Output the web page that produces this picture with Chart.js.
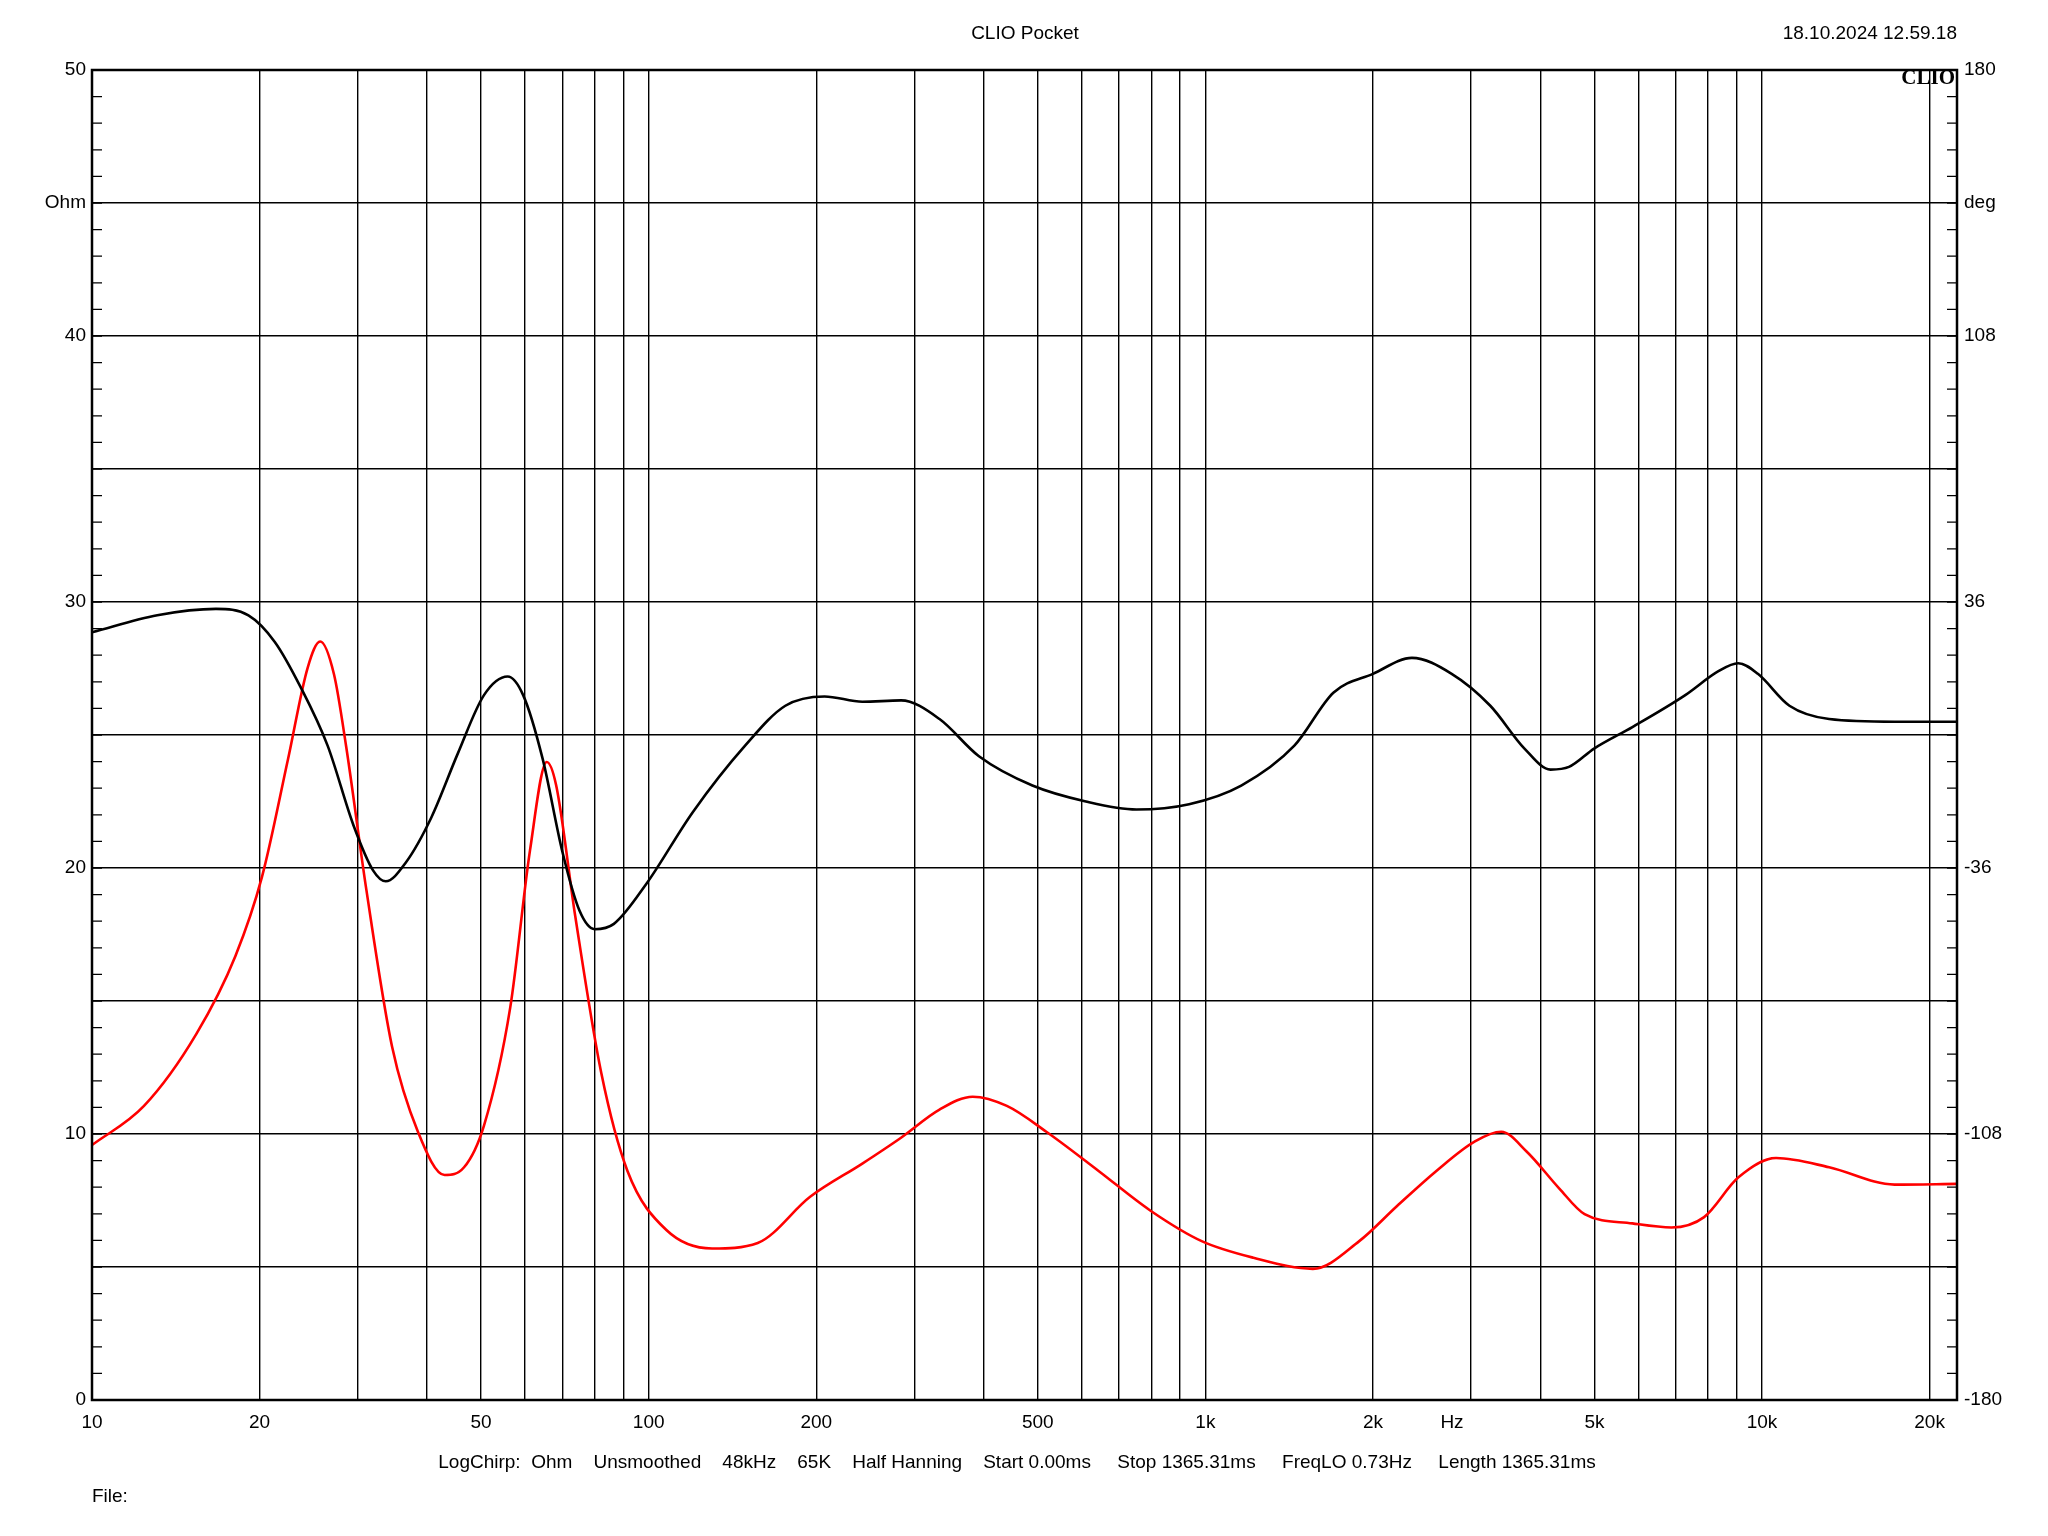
<html><head><script src="https://cdn.jsdelivr.net/npm/chart.js@4"></script>
<style>body{margin:0;background:#fff}</style></head><body>
<canvas id="c" width="2048" height="1536"></canvas>
<script>
const impFreq=[10,13.1,16.7,19.1,21.3,23.7,26.5,29.5,32,33.7,36.6,40.7,45.4,50.6,55.8,59.5,64.5,70,75.1,80,86.6,99,120,149,176,207,242,284,333,392,489,610,752,935,1160,1445,1700,2000,2350,2770,3250,3740,4170,4500,5000,5850,7280,8350,9060,9830,11200,13200,17300,22400];
const impOhm=[28.86,29.5,29.74,29.5,28.5,26.8,24.6,21.6,19.9,19.5,20.2,21.9,24.3,26.5,27.2,26.5,24.1,20.6,18.4,17.7,17.9,19.4,22.1,24.6,26.1,26.45,26.25,26.3,25.6,24.2,23.1,22.5,22.2,22.4,23.1,24.6,26.6,27.3,27.9,27.3,26.1,24.5,23.7,23.8,24.5,25.3,26.5,27.4,27.7,27.3,26.1,25.6,25.5,25.5];
const phFreq=[10,12.4,15.4,18.1,20.2,22.5,24.4,25.7,27.2,28.6,31.1,34.6,38.5,43,46.6,50.6,56.4,61.2,65.6,68.2,73.8,82.2,91.6,107.6,130,157,195,242,284,333,382,440,518,643,796,985,1220,1560,1890,2210,2600,3050,3400,3780,4320,4800,5850,6880,7870,9060,10600,13200,17300,22400];
const phDeg=[-111,-100.4,-80.9,-59.8,-38.4,-6.5,18.2,25.3,16.5,-2.9,-41.8,-84.4,-107.4,-119.1,-117,-105.7,-73.8,-31.3,-7.3,-13.6,-49,-91.5,-118,-134,-139,-137.5,-125,-116,-109,-101.4,-97.9,-100.4,-107.4,-118,-128.7,-137,-141.5,-144.5,-137,-127.5,-118,-110,-107.4,-112.8,-122.7,-129.7,-132.2,-133.3,-130.5,-119.8,-114.5,-117,-121.7,-121.5];
const xLabels={10:'10',20:'20',50:'50',100:'100',200:'200',500:'500',1000:'1k',2000:'2k',5000:'5k',10000:'10k',20000:'20k'};
const leftTicks=[0,10,20,30,40,50];
const rightTicks=[-180,-108,-36,36,108,180];
const F='"Liberation Sans", Arial, sans-serif';
const xt=[];for(let d=10;d<=10000;d*=10)for(let m=1;m<=9;m++){const v=d*m;if(v<=20000)xt.push(v);}
const deco={id:'deco',afterDraw(ch){
 const c=ch.ctx,a=ch.chartArea,x=ch.scales.x,y=ch.scales.y,y2=ch.scales.y2;
 c.save();c.fillStyle='#000';c.strokeStyle='#000';
 c.lineWidth=1.3;
 for(let v=0;v<=50;v++){const p=y.getPixelForValue(v);c.beginPath();c.moveTo(a.left,p);c.lineTo(a.left+10,p);c.moveTo(a.right,p);c.lineTo(a.right-10,p);c.stroke();}
 c.lineWidth=2.5;c.strokeRect(a.left,a.top,a.right-a.left,a.bottom-a.top);
 c.font='19px '+F;c.textBaseline='middle';
 c.textAlign='right';leftTicks.forEach(v=>c.fillText(v,a.left-6,y.getPixelForValue(v)));
 c.textAlign='left';rightTicks.forEach(v=>c.fillText(v,a.right+7,y2.getPixelForValue(v)));
 c.textAlign='right';c.fillText('Ohm',a.left-6,y.getPixelForValue(45));
 c.textAlign='left';c.fillText('deg',a.right+7,y.getPixelForValue(45));
 c.textAlign='center';
 for(const k in xLabels)c.fillText(xLabels[k],x.getPixelForValue(+k),a.bottom+23);
 c.fillText('Hz',1452,a.bottom+23);
 c.fillText('CLIO Pocket',1025,34);
 c.fillText('LogChirp:  Ohm    Unsmoothed    48kHz    65K    Half Hanning    Start 0.00ms     Stop 1365.31ms     FreqLO 0.73Hz     Length 1365.31ms',1017,1463);
 c.textAlign='right';c.fillText('18.10.2024 12.59.18',a.right,34);
 c.textAlign='left';c.fillText('File:',92,1497);
 c.font='bold 21px "Liberation Serif", "Times New Roman", serif';c.textAlign='right';c.fillText('CLIO',a.right-2,79);
 c.restore();}};
new Chart(document.getElementById('c'),{type:'line',
 data:{datasets:[
  {data:impFreq.map((f,i)=>({x:f,y:impOhm[i]})),yAxisID:'y',borderColor:'#000',borderWidth:2.6,pointRadius:0,cubicInterpolationMode:'monotone'},
  {data:phFreq.map((f,i)=>({x:f,y:phDeg[i]})),yAxisID:'y2',borderColor:'#ff0000',borderWidth:2.6,pointRadius:0,cubicInterpolationMode:'monotone'}]},
 options:{responsive:false,devicePixelRatio:1,animation:false,
  layout:{padding:{left:92,right:91,top:70,bottom:136}},
  plugins:{legend:{display:false},tooltip:{enabled:false}},
  scales:{
   x:{type:'logarithmic',min:10,max:22400,afterBuildTicks:s=>{s.ticks=xt.map(v=>({value:v}));},
      ticks:{display:false},border:{display:false},grid:{color:'#000',lineWidth:1.4,drawTicks:false},afterFit:s=>{s.height=0;}},
   y:{min:0,max:50,afterBuildTicks:s=>{s.ticks=[0,5,10,15,20,25,30,35,40,45,50].map(v=>({value:v}));},
      ticks:{display:false},border:{display:false},grid:{color:'#000',lineWidth:1.4,drawTicks:false},afterFit:s=>{s.width=0;}},
   y2:{position:'right',min:-180,max:180,display:false}
  }},plugins:[deco]});
</script></body></html>
